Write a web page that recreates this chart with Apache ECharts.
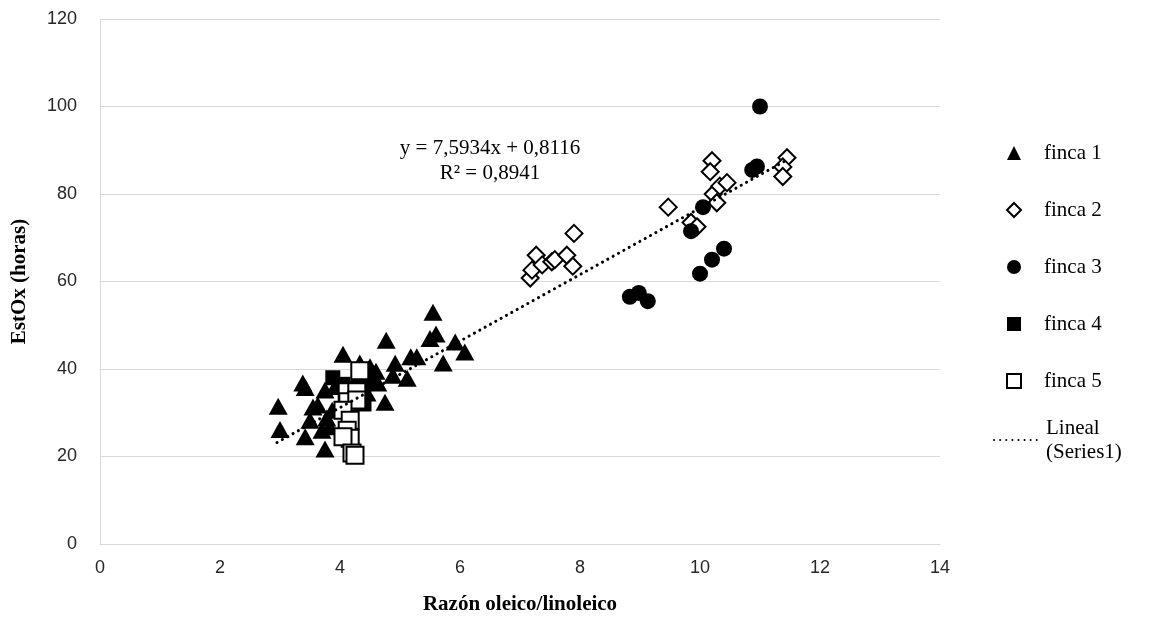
<!DOCTYPE html>
<html>
<head>
<meta charset="utf-8">
<script src="https://cdn.jsdelivr.net/npm/echarts@6/dist/echarts.min.js"></script>
<style>
html,body{margin:0;padding:0;background:#fff;}
#chart{width:1169px;height:627px;}
</style>
</head>
<body>
<div id="chart"></div>
<script>
const xTicks = [0, 2, 4, 6, 8, 10, 12, 14];
const yTicks = [0, 20, 40, 60, 80, 100, 120];

const finca1 = [[2.97,31.5],[3.0,26.2],[3.38,36.8],[3.42,35.8],[3.42,24.5],[3.5,28.3],[3.55,31.3],[3.63,31.8],[3.7,26.0],[3.75,21.7],[3.75,35.2],[3.78,28.8],[3.83,26.8],[3.87,30.6],[3.92,36.0],[4.05,43.4],[4.33,41.4],[4.3,38.5],[4.45,34.5],[4.5,40.5],[4.55,37.5],[4.6,39.5],[4.63,36.8],[4.75,32.4],[4.77,46.6],[4.88,38.6],[4.92,41.3],[5.12,37.9],[5.18,42.8],[5.28,42.8],[5.5,47.0],[5.55,53.0],[5.6,48.0],[5.72,41.4],[5.92,46.2],[6.08,43.9]];
const finca2 = [[7.17,60.8],[7.2,62.6],[7.27,66.0],[7.37,63.8],[7.53,64.5],[7.58,65.0],[7.78,66.0],[7.88,63.5],[7.9,71.0],[9.47,77.0],[9.85,73.5],[9.95,72.5],[10.2,87.6],[10.17,85.1],[10.22,80.0],[10.28,78.0],[10.33,81.8],[10.45,82.6],[11.45,88.3],[11.38,86.2],[11.38,84.0]];
const finca3 = [[8.83,56.5],[8.98,57.4],[9.13,55.5],[9.85,71.5],[10.0,61.8],[10.05,77.0],[10.2,65.0],[10.4,67.5],[10.87,85.5],[10.95,86.3],[11.0,100.0]];
const finca4 = [[3.88,38.0],[4.05,36.5],[4.4,36.5],[4.4,32.0],[4.15,33.5]];
const finca5 = [[4.33,39.6],[4.12,34.8],[4.28,34.8],[4.13,32.5],[4.28,32.9],[4.05,30.6],[4.17,28.3],[4.12,26.0],[4.17,24.2],[4.05,24.5],[4.2,20.8],[4.25,20.3]];
const trend = [[2.95,23.2],[11.45,87.8]];
const seriesNames = ['finca 1','finca 2','finca 3','finca 4','finca 5','Lineal\n(Series1)'];
const eqText = 'y = 7,5934x + 0,8116';
const r2Text = 'R² = 0,8941';

const chart = echarts.init(document.getElementById('chart'), null, {renderer:'canvas'});
const serif = '"Liberation Serif","Times New Roman",serif';
const sans = '"Liberation Sans",Arial,sans-serif';
const filled = {color:'#000', opacity:1};
const hollow = {color:'#fff', borderColor:'#000', borderWidth:2, opacity:1};

chart.setOption({
  animation:false,
  backgroundColor:'#fff',
  grid:{left:100, right:229, top:19, bottom:83},
  xAxis:{
    type:'value', min:xTicks[0], max:xTicks[xTicks.length-1], interval:2,
    axisLine:{show:true, onZero:false, lineStyle:{color:'#d9d9d9', width:1}},
    axisTick:{show:false}, splitLine:{show:false},
    axisLabel:{color:'#262626', fontFamily:sans, fontSize:18, margin:15},
    name:'Razón oleico/linoleico', nameLocation:'middle', nameGap:50,
    nameTextStyle:{fontFamily:serif, fontWeight:'bold', fontSize:21, color:'#000'}
  },
  yAxis:{
    type:'value', min:yTicks[0], max:yTicks[yTicks.length-1], interval:20,
    axisLine:{show:true, lineStyle:{color:'#d9d9d9', width:1}},
    axisTick:{show:false},
    splitLine:{show:true, lineStyle:{color:'#d9d9d9', width:1}},
    axisLabel:{color:'#262626', fontFamily:sans, fontSize:18, margin:23},
    name:'EstOx (horas)', nameLocation:'middle', nameGap:70,
    nameTextStyle:{fontFamily:serif, fontWeight:'bold', fontSize:21, color:'#000'}
  },
  legend:[
    {
      orient:'vertical', left:1001, top:136, itemWidth:14, itemHeight:14, itemGap:33,
      textStyle:{fontFamily:serif, fontSize:21, color:'#000', lineHeight:24, padding:[0,0,0,18]},
      data:seriesNames.slice(0,5)
    },
    {
      orient:'vertical', left:988, top:399, itemWidth:45, itemHeight:14,
      textStyle:{fontFamily:serif, fontSize:21, color:'#000', lineHeight:24, padding:[24,0,0,2]},
      data:[{name:seriesNames[5], itemStyle:{opacity:0}}]
    }
  ],
  series:[
    {name:seriesNames[0], type:'scatter', data:finca1, symbol:'triangle', symbolSize:[19,17], itemStyle:filled, z:3},
    {name:seriesNames[1], type:'scatter', data:finca2, symbol:'diamond', symbolSize:17, itemStyle:hollow, z:3},
    {name:seriesNames[2], type:'scatter', data:finca3, symbol:'circle', symbolSize:16, itemStyle:filled, z:3},
    {name:seriesNames[3], type:'scatter', data:finca4, symbol:'rect', symbolSize:15, itemStyle:filled, z:3},
    {name:seriesNames[4], type:'scatter', data:finca5, symbol:'rect', symbolSize:17, itemStyle:hollow, z:4},
    {name:seriesNames[5], type:'line', data:trend, symbol:'none', z:5,
     lineStyle:{color:'#000', width:3, type:[0.1,6], cap:'round'}, itemStyle:{color:'#000'}}
  ],
  graphic:[
    {type:'text', x:490, y:148, style:{text:eqText, font:'21px '+serif, fill:'#000', align:'center', verticalAlign:'middle'}, silent:true},
    {type:'text', x:490, y:173, style:{text:r2Text, font:'21px '+serif, fill:'#000', align:'center', verticalAlign:'middle'}, silent:true}
  ]
});
</script>
</body>
</html>
